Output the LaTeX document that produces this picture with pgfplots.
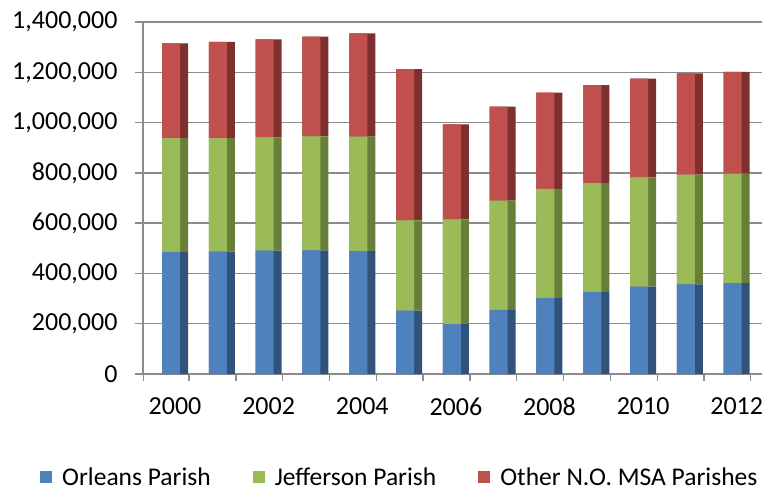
\documentclass[border=0pt]{standalone}
\usepackage{fontspec}
\setmainfont{Carlito}
\usepackage{pgfplots}
\pgfplotsset{compat=1.18}
\definecolor{blueF}{RGB}{79,129,189}
\definecolor{blueS}{RGB}{49,82,122}
\definecolor{greenF}{RGB}{155,187,89}
\definecolor{greenS}{RGB}{103,128,57}
\definecolor{redF}{RGB}{192,80,77}
\definecolor{redS}{RGB}{126,48,46}
\definecolor{gridgray}{RGB}{140,140,140}
\begin{document}
\begin{tikzpicture}
\useasboundingbox (0,0) rectangle (764pt,488pt);
\pgfplotsset{base/.style={at={(143pt,114pt)}, anchor=south west, scale only axis,
  width=619pt, height=352pt, xmin=-0.684, xmax=12.54, ymin=0, ymax=1400000, ybar stacked}}
\begin{axis}[base, bar width=26pt, bar shift=0pt,
  axis x line*=bottom, axis y line*=left,
  axis line style={draw=gridgray, line width=1.3pt},
  ymajorgrids, grid style={draw=gridgray, line width=1.3pt},
  ytick={0,200000,...,1400000},
  scaled y ticks=false,
  xtick={0,2,...,12}, xticklabels={2000,2002,2004,2006,2008,2010,2012},
  minor xtick={-0.68,0.3,1.3,...,12.3},
  tick align=outside,
  major tick length=8pt, minor tick length=7pt,
  major x tick style={draw=none},
  major y tick style={draw=gridgray, line width=1.3pt},
  minor x tick style={draw=gridgray, line width=1.3pt},
  tick label style={font=\fontsize{26}{30}\selectfont},
  xticklabel style={yshift=-12pt},
  yticklabel style={xshift=-14pt, /pgf/number format/.cd, fixed, 1000 sep={,}, assume math mode=true},
]
\addplot[fill=blueS, draw=none] coordinates {(0,486000) (1,487000) (2,491000) (3,492000) (4,489000) (5,252000) (6,198000) (7,255000) (8,303000) (9,327000) (10,348000) (11,356000) (12,361000)};
\addplot[fill=greenS, draw=none] coordinates {(0,452000) (1,451000) (2,450000) (3,453000) (4,455000) (5,359000) (6,417000) (7,435000) (8,433000) (9,432000) (10,434000) (11,437000) (12,436000)};
\addplot[fill=redS, draw=none] coordinates {(0,377000) (1,383000) (2,390000) (3,397000) (4,411000) (5,602000) (6,378000) (7,373000) (8,383000) (9,390000) (10,393000) (11,403000) (12,405000)};
\end{axis}
\begin{axis}[base, hide axis, bar width=18pt, bar shift=-4pt,
  legend style={at={(-0.1664,-0.2926)}, anchor=west, draw=none, fill=none,
    legend columns=3, inner sep=0pt, font=\fontsize{25.5}{30}\selectfont,
    /tikz/every odd column/.append style={column sep=8pt},
    /tikz/every even column/.append style={column sep=40pt}},
  legend image code/.code={\fill[#1] (0pt,-6pt) rectangle (12pt,6pt);},
]
\addplot[fill=blueF, draw=none] coordinates {(0,486000) (1,487000) (2,491000) (3,492000) (4,489000) (5,252000) (6,198000) (7,255000) (8,303000) (9,327000) (10,348000) (11,356000) (12,361000)};
\addlegendentry{Orleans Parish}
\addplot[fill=greenF, draw=none] coordinates {(0,452000) (1,451000) (2,450000) (3,453000) (4,455000) (5,359000) (6,417000) (7,435000) (8,433000) (9,432000) (10,434000) (11,437000) (12,436000)};
\addlegendentry{Jefferson Parish}
\addplot[fill=redF, draw=none] coordinates {(0,377000) (1,383000) (2,390000) (3,397000) (4,411000) (5,602000) (6,378000) (7,373000) (8,383000) (9,390000) (10,393000) (11,403000) (12,405000)};
\addlegendentry{Other N.O. MSA Parishes}
\end{axis}
\end{tikzpicture}
\end{document}
